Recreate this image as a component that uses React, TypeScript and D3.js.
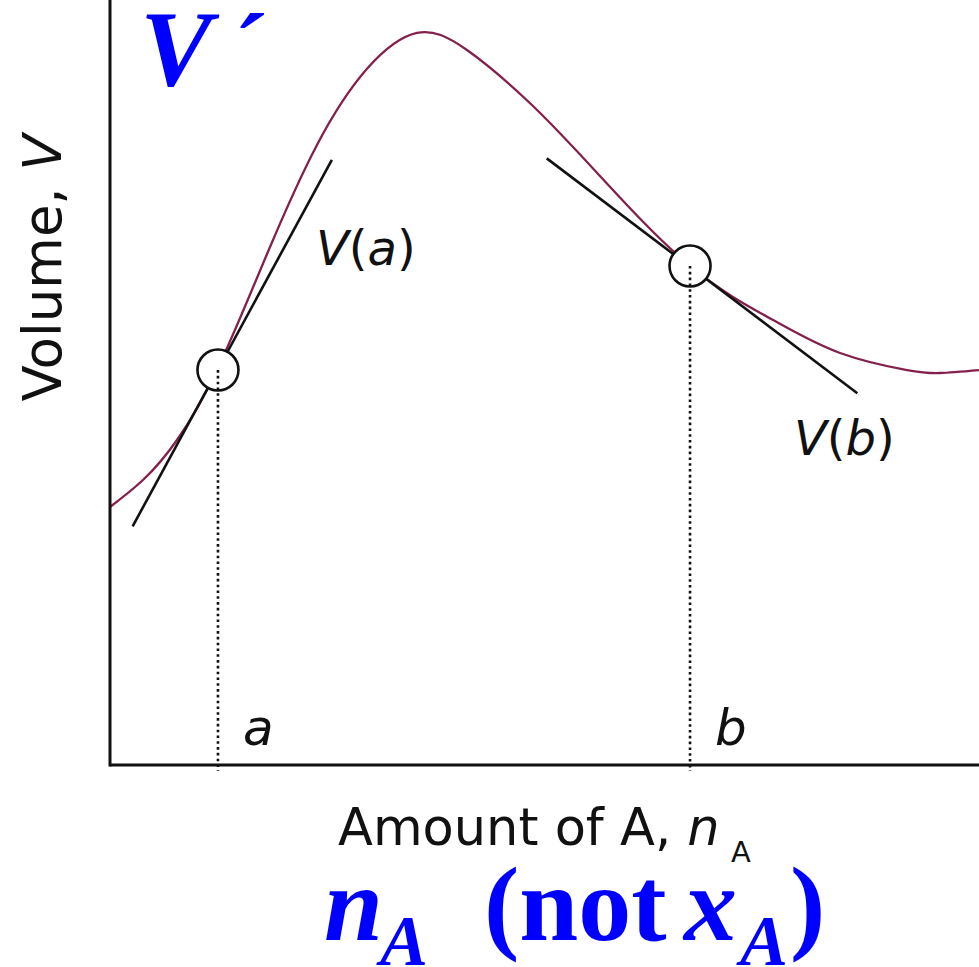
import React from "react";
import * as d3 from "d3";

// Curve V(n_A) (arbitrary units, x 0..100, y 0..100)
const curveX = [0, 3.79, 7.7, 12.41, 18.05, 23.79, 29.54, 35.29, 41.03, 48.62, 56.32, 66.67, 76.21, 83.91, 91.61, 95.4, 99.89];
const curveY = [33.73, 37.25, 42.48, 51.9, 66.8, 81.05, 91.0, 95.7, 93.46, 86.14, 76.99, 65.23, 58.17, 53.86, 51.63, 51.24, 51.63];

// Points a and b on the curve
const pointNames = ["a", "b"];
const pointX = [12.41, 66.67];
const pointY = [51.63, 65.23];

// Tangent segments (start/end)
const tangentX0 = [2.6, 50.2];
const tangentY0 = [31.2, 79.3];
const tangentX1 = [25.5, 85.9];
const tangentY1 = [79.1, 48.6];

const W = 979;
const H = 967;

export default function App() {
  const x = d3.scaleLinear().domain([0, 100]).range([110, 980]);
  const y = d3.scaleLinear().domain([0, 100]).range([765, 0]);

  const pts: [number, number][] = curveX.map((v, i) => [v, curveY[i]]);
  const line = d3
    .line<[number, number]>()
    .x((d) => x(d[0]))
    .y((d) => y(d[1]))
    .curve(d3.curveNatural);

  const sans = "'DejaVu Sans', sans-serif";
  const serif = "'Liberation Serif', 'Times New Roman', serif";
  const blue = "#0000ff";

  return (
    <svg
      width={W}
      height={H}
      viewBox={`0 0 ${W} ${H}`}
      style={{ position: "absolute", left: 0, top: 0, background: "#fff" }}
    >
      <rect x={0} y={0} width={W} height={H} fill="#fff" />
      {/* curve */}
      <path d={line(pts) || ""} fill="none" stroke="#84204c" strokeWidth={2.3} />
      {/* tangents */}
      {tangentX0.map((_, i) => (
        <line
          key={"t" + i}
          x1={x(tangentX0[i])}
          y1={y(tangentY0[i])}
          x2={x(tangentX1[i])}
          y2={y(tangentY1[i])}
          stroke="#111"
          strokeWidth={2.6}
        />
      ))}
      {/* circles */}
      {pointX.map((v, i) => (
        <circle
          key={"c" + i}
          cx={x(v)}
          cy={y(pointY[i])}
          r={20.5}
          fill="#fff"
          stroke="#111"
          strokeWidth={2.6}
        />
      ))}
      {/* dotted drops */}
      {pointX.map((v, i) => (
        <line
          key={"d" + i}
          x1={x(v)}
          y1={y(pointY[i])}
          x2={x(v)}
          y2={y(0) + 6}
          stroke="#111"
          strokeWidth={2.6}
          strokeDasharray="2.6 3.2"
        />
      ))}
      {/* axes */}
      <line x1={x(0)} y1={0} x2={x(0)} y2={y(0) + 1.5} stroke="#111" strokeWidth={3} />
      <line x1={x(0)} y1={y(0)} x2={W} y2={y(0)} stroke="#111" strokeWidth={3} />

      {/* point labels */}
      {pointNames.map((n, i) => (
        <text
          key={"pl" + i}
          x={x(pointX[i]) + 25}
          y={745}
          fontFamily={sans}
          fontStyle="italic"
          fontSize={50}
          fill="#111"
        >
          {n}
        </text>
      ))}
      {/* tangent labels */}
      <text x={316} y={265} fontFamily={sans} fontSize={48} fill="#111">
        <tspan fontStyle="italic">V</tspan>(<tspan fontStyle="italic">a</tspan>)
      </text>
      <text x={794} y={455} fontFamily={sans} fontSize={48} fill="#111">
        <tspan fontStyle="italic">V</tspan>(<tspan fontStyle="italic">b</tspan>)
      </text>

      {/* axis titles */}
      <text
        transform={`translate(61,268) rotate(-90)`}
        textAnchor="middle"
        fontFamily={sans}
        fontSize={53}
        fill="#111"
      >
        Volume, <tspan fontStyle="italic">V</tspan>
      </text>
      <text x={338} y={845} fontFamily={sans} fontSize={51} fill="#111">
        Amount of A, <tspan fontStyle="italic">n</tspan>
      </text>
      <text x={731} y={862} fontFamily={sans} fontSize={29} fill="#111">
        A
      </text>

      {/* blue annotations */}
      <text x={140} y={85} fontFamily={serif} fontWeight="bold" fontStyle="italic" fontSize={108} fill={blue}>
        V
      </text>
      <text x={228} y={82} fontFamily={serif} fontWeight="bold" fontStyle="italic" fontSize={100} fill={blue}>
        ´
      </text>
      <text x={324} y={940} fontFamily={serif} fontWeight="bold" fontStyle="italic" fontSize={106} fill={blue}>
        n
      </text>
      <text x={380} y={965} fontFamily={serif} fontWeight="bold" fontStyle="italic" fontSize={72} fill={blue}>
        A
      </text>
      <text x={484} y={940} fontFamily={serif} fontWeight="bold" fontSize={106} fill={blue}>
        (not
      </text>
      <text x={684} y={940} fontFamily={serif} fontWeight="bold" fontStyle="italic" fontSize={106} fill={blue}>
        x
      </text>
      <text x={740} y={965} fontFamily={serif} fontWeight="bold" fontStyle="italic" fontSize={72} fill={blue}>
        A
      </text>
      <text x={790} y={940} fontFamily={serif} fontWeight="bold" fontSize={106} fill={blue}>
        )
      </text>
    </svg>
  );
}
